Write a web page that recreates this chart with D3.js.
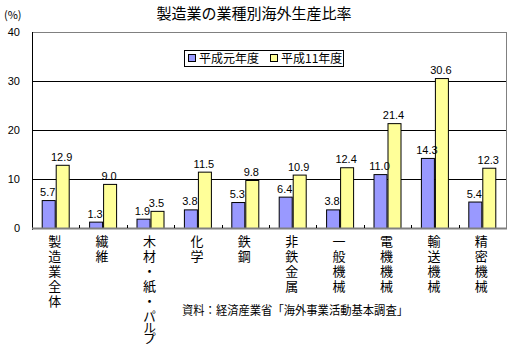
<!DOCTYPE html>
<html><head><meta charset="utf-8">
<script src="https://cdn.jsdelivr.net/npm/d3@7"></script>
<style>body{margin:0;background:#fff}svg{display:block}text{font-family:"Noto Sans CJK JP",sans-serif}.num{font-family:"Liberation Sans",Arial,sans-serif}</style>
</head><body><svg id="c" width="508" height="345"></svg>
<script>
const categories = ["製造業全体","繊維","木材・紙・パルプ","化学","鉄鋼","非鉄金属","一般機械","電機機械","輸送機械","精密機械"];
const seriesNames = ["平成元年度","平成11年度"];
const h1 = [5.7,1.3,1.9,3.8,5.3,6.4,3.8,11.0,14.3,5.4];
const h11 = [12.9,9.0,3.5,11.5,9.8,10.9,12.4,21.4,30.6,12.3];
const yTicks = [0,10,20,30,40];
const colors = ["#9999FF","#FFFF99"];

const svg = d3.select("#c");
const L=32,R=506,T=32,B=228;
const x = d3.scaleBand().domain(categories).range([L,R]);
const y = d3.scaleLinear().domain([0,40]).range([B,T]);
const bw = 14;

// title
svg.append("text").attr("x",254).attr("y",19).attr("text-anchor","middle").attr("font-size",15).text("製造業の業種別海外生産比率");
svg.append("text").attr("x",4).attr("y",19).attr("font-size",11).text("(%)");

// gridlines
svg.append("g").selectAll("line").data(yTicks.filter(d=>d>0&&d<40)).join("line")
  .attr("x1",L).attr("x2",R).attr("y1",d=>y(d)+0.5).attr("y2",d=>y(d)+0.5).attr("stroke","#000");
// frame top & right
svg.append("line").attr("x1",L).attr("x2",R).attr("y1",T+0.5).attr("y2",T+0.5).attr("stroke","#808080");
svg.append("line").attr("x1",R+0.5).attr("x2",R+0.5).attr("y1",T).attr("y2",B).attr("stroke","#808080");

// y labels
svg.append("g").selectAll("text").data(yTicks).join("text").attr("class","num")
  .attr("x",20).attr("y",d=>y(d)+4).attr("text-anchor","end").attr("font-size",11).text(d=>d);

// bars
const series=[h1,h11];
const cx=(j,i)=>x(categories[j])+x.bandwidth()/2-bw+i*bw;
series.forEach((s,i)=>{
  svg.append("g").selectAll("rect").data(s).join("rect")
    .attr("x",(d,j)=>cx(j,i)+0.5)
    .attr("y",d=>y(d)+0.5).attr("width",bw-1).attr("height",d=>B-y(d))
    .attr("fill",colors[i]).attr("stroke","#000").attr("stroke-width",1);
});
series.forEach((s,i)=>{
  svg.append("g").selectAll("text").data(s).join("text").attr("class","num")
    .attr("x",(d,j)=>cx(j,i)+bw/2-1)
    .attr("y",d=>y(d)-4).attr("text-anchor","middle").attr("font-size",11).text(d=>d.toFixed(1));
});

// axes
svg.append("line").attr("x1",L+0.5).attr("x2",L+0.5).attr("y1",T).attr("y2",B+2).attr("stroke","#000");
svg.append("line").attr("x1",L).attr("x2",R+1).attr("y1",B+0.5).attr("y2",B+0.5).attr("stroke","#808080").attr("stroke-width",2);
svg.append("g").selectAll("line").data(categories.slice(1)).join("line")
  .attr("x1",d=>Math.round(x(d))+0.5).attr("x2",d=>Math.round(x(d))+0.5).attr("y1",B-3).attr("y2",B).attr("stroke","#000");

// category labels vertical (katakana set tighter, as in the proportional original)
svg.append("g").selectAll("text").data(categories).join("text")
  .attr("x",d=>x(d)+x.bandwidth()/2-1).attr("y",235)
  .attr("font-size",13)
  .style("writing-mode","vertical-rl")
  .each(function(d){
    const m = d.match(/^([^ァ-ヶー]*)([ァ-ヶー]*)$/);
    const t = d3.select(this);
    t.append("tspan").style("letter-spacing","2px").text(m[1]);
    if(m[2]) t.append("tspan").style("letter-spacing","-2px").text(m[2]);
  });

// legend
const lg=svg.append("g");
lg.append("rect").attr("x",184.5).attr("y",50.5).attr("width",159).attr("height",16).attr("fill","#fff").attr("stroke","#000");
const lx=[188,270];
seriesNames.forEach((n,i)=>{
  lg.append("rect").attr("x",lx[i]+0.5).attr("y",54.5).attr("width",7).attr("height",7).attr("fill",colors[i]).attr("stroke","#000");
  lg.append("text").attr("x",lx[i]+11).attr("y",63).attr("font-size",12).text(n);
});

// source
svg.append("text").attr("x",182).attr("y",315).attr("font-size",12)
  .attr("textLength",226).attr("lengthAdjust","spacingAndGlyphs").text("資料：経済産業省「海外事業活動基本調査」");
</script></body></html>
